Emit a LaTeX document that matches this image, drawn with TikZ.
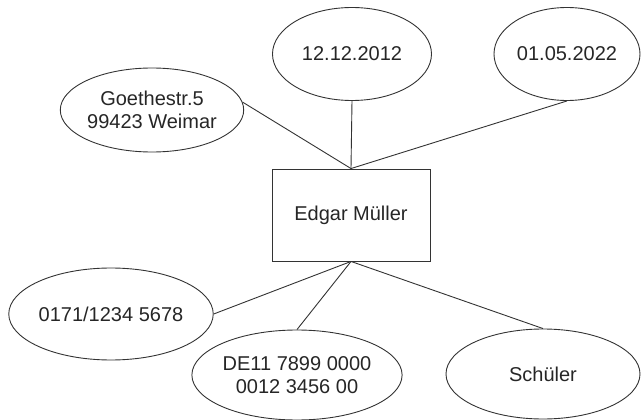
\documentclass[tikz,border=0pt]{standalone}
\usepackage{fontspec}
\setmainfont{Liberation Sans}
\usetikzlibrary{shapes.geometric}
\begin{document}
\begin{tikzpicture}[x=1pt,y=-1pt,
  every node/.style={text=black!85, font=\fontsize{20}{23}\selectfont, align=center, inner sep=0pt},
  attr/.style={ellipse, draw=black!80, line width=0.9pt},
  entity/.style={rectangle, draw=black!80, line width=0.9pt},
  link/.style={draw=black!80, line width=0.9pt}]
\useasboundingbox (0,0) rectangle (641,420);
\node[entity, minimum width=158pt, minimum height=92pt] (person) at (351,215) {Edgar Müller};
\node[attr, minimum width=158pt, minimum height=84pt] (addr) at (152,110) {Goethestr.5\\99423 Weimar};
\node[attr, minimum width=159pt, minimum height=93pt] (date1) at (352,54) {12.12.2012};
\node[attr, minimum width=146pt, minimum height=93pt] (date2) at (567,54) {01.05.2022};
\node[attr, minimum width=199pt, minimum height=92pt] (tel) at (111,314) {0171/1234 5678};
\node[attr, minimum width=199pt, minimum height=90pt] (iban) at (297,375) {DE11 7899 0000\\0012 3456 00};
\node[attr, minimum width=194pt, minimum height=90pt] (status) at (543,374) {Schüler};
\draw[link] (addr.5) -- (person.north);
\draw[link] (date1.south) -- (person.north);
\draw[link] (date2.south) -- (person.north);
\draw[link] (tel.east) -- (person.south);
\draw[link] (iban.north) -- (person.south);
\draw[link] (status.north) -- (person.south);
\end{tikzpicture}
\end{document}
